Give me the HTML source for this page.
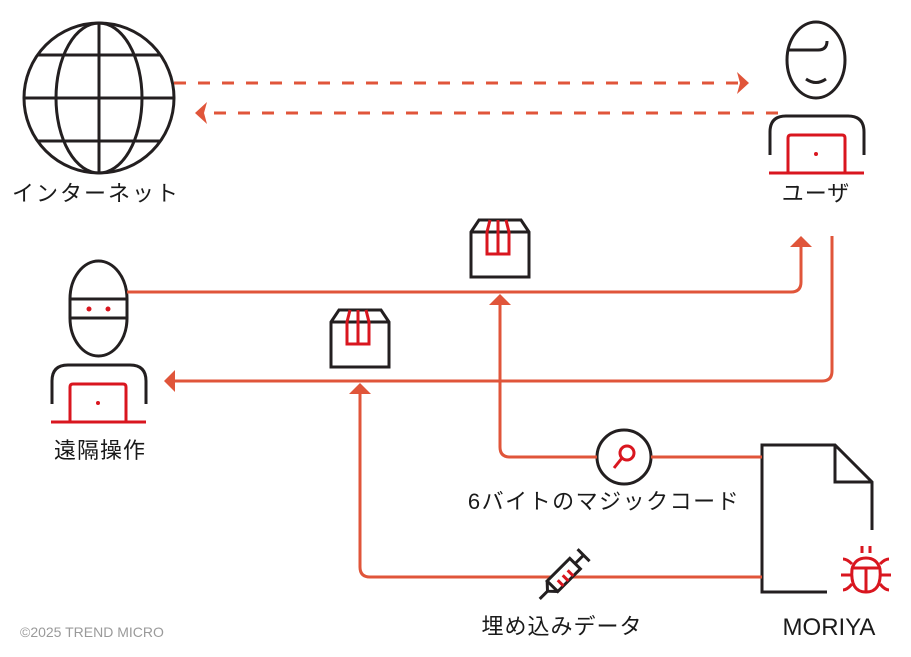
<!DOCTYPE html>
<html><head><meta charset="utf-8"><style>
html,body{margin:0;padding:0;background:#fff}
svg{display:block}
text{font-family:"Liberation Sans","Noto Sans CJK JP",sans-serif;fill:#1a1a1a}
</style></head><body>
<svg width="911" height="657" viewBox="0 0 911 657" xmlns="http://www.w3.org/2000/svg">
<g fill="none" stroke="#231f20" stroke-width="3">
 <circle cx="99" cy="98" r="75"/>
 <ellipse cx="99" cy="98" rx="43" ry="75"/>
 <line x1="99" y1="23" x2="99" y2="173"/>
 <line x1="24" y1="98" x2="174" y2="98"/>
 <line x1="37" y1="55" x2="161" y2="55"/>
 <line x1="37" y1="141" x2="161" y2="141"/>
 <ellipse cx="816" cy="60" rx="29" ry="38"/>
 <path d="M788 50 H818 Q827 50 827 41"/>
 <path d="M806 79 Q816 86 826 79"/>
 <path d="M770 155 V132 Q770 116 786 116 H848 Q864 116 864 132 V155"/>
 <path d="M70 299 V299 A28.5 38 0 0 1 127 299 V318 A28.5 38 0 0 1 70 318 Z"/>
 <line x1="70" y1="299" x2="127" y2="299"/>
 <line x1="70" y1="318" x2="127" y2="318"/>
 <path d="M52 404 V381 Q52 365 68 365 H130 Q146 365 146 381 V404"/>
 <path d="M471 232 L479 220 H521 L529 232 V277 H471 Z M471 232 H529"/>
 <path d="M331 322 L339 310 H381 L389 322 V367 H331 Z M331 322 H389"/>
 <circle cx="624" cy="457" r="27" fill="#fff"/>
 <path d="M827 592 H762 V445 H835 L872 482 V530"/>
 <path d="M835 445 V482 H872"/>
</g>
<g fill="none" stroke="#d9161f" stroke-width="3">
 <path d="M788 173 V138 Q788 135 791 135 H842 Q845 135 845 138 V173"/>
 <line x1="769" y1="173" x2="864" y2="173"/>
 <path d="M70 422 V387 Q70 384 73 384 H123 Q126 384 126 387 V422"/>
 <line x1="51" y1="422" x2="146" y2="422"/>
 <path d="M490 220 L487 232 V254 H509 V232 L506 220 M498 220 V254"/>
 <path d="M350 310 L347 322 V344 H369 V322 L366 310 M358 310 V344"/>
 <circle cx="627" cy="453" r="7"/>
 <line x1="622" y1="458" x2="614" y2="468"/>
 <path d="M852 569 Q855 558 866 558 Q877 558 880 569 Q882 592 866 592 Q850 592 852 569 Z"/>
 <line x1="851" y1="568" x2="881" y2="568"/>
 <line x1="866" y1="568" x2="866" y2="592"/>
 <path d="M862 546 V553 M870 546 V553"/>
 <path d="M843 559 Q847 559 852 564 M889 559 Q885 559 880 564"/>
 <path d="M841 575 H851 M891 575 H881"/>
 <path d="M843 590 Q847 590 852 584 M889 590 Q885 590 880 584"/>
</g>
<g fill="#d9161f">
 <circle cx="816" cy="154" r="2"/>
 <circle cx="98" cy="403" r="2"/>
 <circle cx="89" cy="309" r="2.5"/>
 <circle cx="108" cy="309" r="2.5"/>
</g>
<g fill="none" stroke="#e0553a" stroke-width="3">
 <line x1="174" y1="83" x2="742" y2="83" stroke-dasharray="12 12"/>
 <line x1="778" y1="113" x2="210" y2="113" stroke-dasharray="12 12"/>
 <path d="M127 292 H791 Q801 292 801 282 V244"/>
 <path d="M832 236 V371 Q832 381 822 381 H172"/>
 <path d="M597 457 H510 Q500 457 500 447 V303"/>
 <line x1="651" y1="457" x2="762" y2="457"/>
 <path d="M762 577 H370 Q360 577 360 567 V392"/>
</g>
<g fill="#e0553a">
 <polygon points="737,72 749,83 737,94 740,83"/>
 <polygon points="207,102 195,113 207,124 204,113"/>
 <polygon points="790,247 801,236 812,247"/>
 <polygon points="175,370 164,381 175,392"/>
 <polygon points="489,305 500,294 511,305"/>
 <polygon points="349,394 360,383 371,394"/>
</g>
<g transform="rotate(-45 562 576)" fill="none" stroke="#231f20" stroke-width="3">
 <rect x="548" y="569" width="32" height="15" fill="#fff"/>
 <path d="M548 569 L541 576.5 L548 584"/>
 <line x1="541" y1="576.5" x2="530" y2="576.5"/>
 <line x1="580" y1="576.5" x2="592" y2="576.5"/>
 <line x1="592" y1="568" x2="592" y2="585"/>
 <g stroke="#d9161f"><line x1="556" y1="576" x2="556" y2="584"/><line x1="563" y1="576" x2="563" y2="584"/><line x1="570" y1="576" x2="570" y2="584"/></g>
</g>
<g font-size="22" text-anchor="middle">
 <text x="96" y="201" letter-spacing="2">インターネット</text>
 <text x="816" y="201" letter-spacing="1">ユーザ</text>
 <text x="100" y="458" letter-spacing="1">遠隔操作</text>
 <text x="604" y="509" letter-spacing="1.5">6バイトのマジックコード</text>
 <text x="562" y="634" letter-spacing="1">埋め込みデータ</text>
 <text x="829" y="635" font-size="24">MORIYA</text>
</g>
<text x="20" y="637" font-size="14" style="fill:#9a9a9a">©2025 TREND MICRO</text>
</svg>
</body></html>
